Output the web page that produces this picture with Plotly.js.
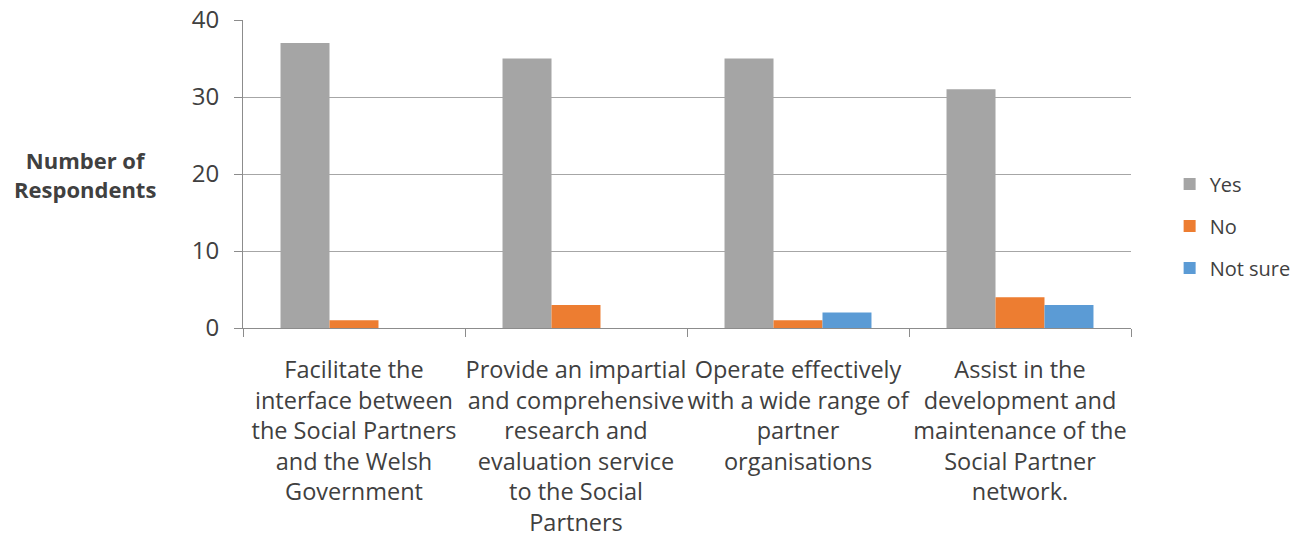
<!DOCTYPE html>
<html><head><meta charset="utf-8">
<script src="https://cdn.plot.ly/plotly-3.0.1.min.js"></script>
<style>html,body{margin:0;padding:0;background:#fff}#chart{width:1293px;height:541px}</style>
</head><body><div id="chart"></div>
<script>
const categories = [
  "Facilitate the<br>interface between<br>the Social Partners<br>and the Welsh<br>Government",
  "Provide an impartial<br>and comprehensive<br>research and<br>evaluation service<br>to the Social<br>Partners",
  "Operate effectively<br>with a wide range of<br>partner<br>organisations",
  "Assist in the<br>development and<br>maintenance of the<br>Social Partner<br>network."
];
const yesValues = [37, 35, 35, 31];
const noValues = [1, 3, 1, 4];
const notSureValues = [0, 0, 2, 3];
const seriesNames = ["Yes", "No", "Not sure"];
const yTitle = "Number of<br>Respondents";

const colors = ["#a5a5a5", "#ed7d31", "#5b9bd5"];
const allValues = [yesValues, noValues, notSureValues];
const traces = allValues.map((v, i) => ({
  type: "bar", name: seriesNames[i], x: categories, y: v,
  marker: {color: colors[i]}, legendgroup: "g" + i, hoverinfo: "none"
}));
const font = {family: "Open Sans, sans-serif", color: "#404040", size: 24};
const layout = {
  width: 1293, height: 541,
  margin: {l: 243, r: 162, t: 20, b: 213, autoexpand: false},
  paper_bgcolor: "#fff", plot_bgcolor: "#fff",
  font: font,
  barmode: "group", bargap: 0.338, bargroupgap: 0,
  showlegend: true,
  legend: {x: 1.0435, xanchor: "left", y: 0.331, yanchor: "middle",
    font: {family: "Open Sans, sans-serif", size: 20, color: "#404040"},
    traceorder: "grouped", tracegroupgap: 13},
  xaxis: {type: "category", showgrid: false, showline: true, linecolor: "#8c8c8c", linewidth: 1,
    ticks: "outside", tickson: "boundaries", ticklen: 8, tickcolor: "#8c8c8c",
    tickfont: {size: 23.5, color: "#404040"}, tickangle: 0, ticklabelstandoff: 21, fixedrange: true},
  yaxis: {range: [0, 40], dtick: 10, showgrid: true, gridcolor: "#a6a6a6", gridwidth: 1,
    showline: true, linecolor: "#8c8c8c", ticks: "outside", ticklen: 8, tickcolor: "#8c8c8c",
    tickfont: {size: 24, color: "#404040"}, ticklabelstandoff: 10, zeroline: false, fixedrange: true},
  annotations: [{text: "<b>" + yTitle + "</b>", xref: "paper", yref: "paper",
    x: -0.178, y: 0.5, xanchor: "center", yanchor: "middle", showarrow: false,
    font: {family: "Open Sans, sans-serif", size: 22, color: "#404040"}, align: "center"}]
};
Plotly.newPlot("chart", traces, layout, {staticPlot: true, displayModeBar: false});
</script></body></html>
